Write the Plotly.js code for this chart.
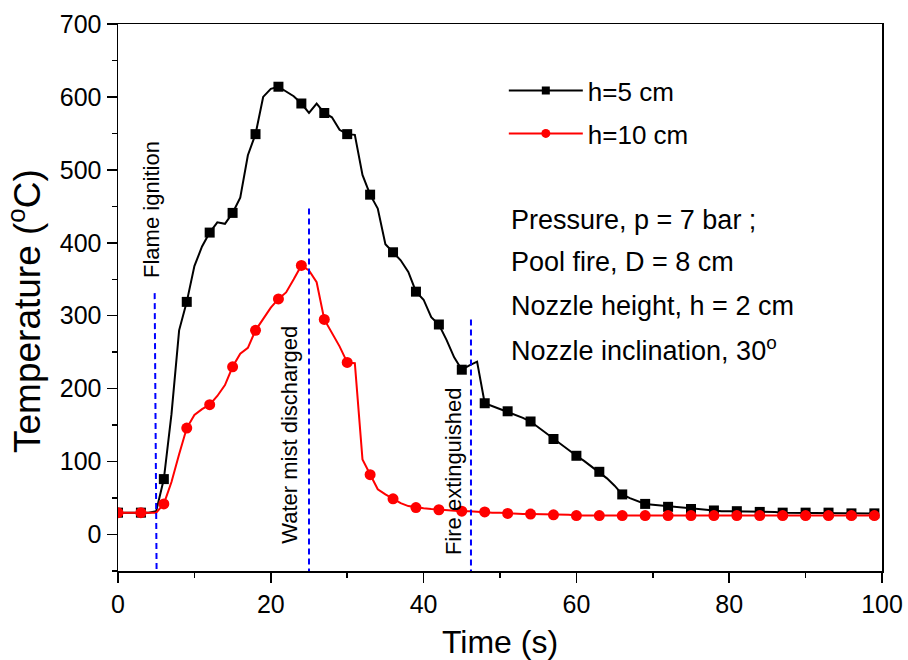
<!DOCTYPE html>
<html>
<head>
<meta charset="utf-8">
<script src="https://cdn.plot.ly/plotly-3.0.1.min.js"></script>
<style>html,body{margin:0;padding:0;background:#fff;}#chart{width:908px;height:660px;}</style>
</head>
<body>
<div id="chart"></div>
<script>
// Time (s), one reading per second
const time = [0,1,2,3,4,5,6,7,8,9,10,11,12,13,14,15,16,17,18,19,20,21,22,23,24,25,26,27,28,29,30,31,32,33,34,35,36,37,38,39,40,41,42,43,44,45,46,47,48,49,50,51,52,53,54,55,56,57,58,59,60,61,62,63,64,65,66,67,68,69,70,71,72,73,74,75,76,77,78,79,80,81,82,83,84,85,86,87,88,89,90,91,92,93,94,95,96,97,98,99];
// h = 5 cm
const tempH5 = [30,30,30,30,30,32,76,165,280,319,368,395,414,428,426,441,462,520,549,600,611,614,607,601,591,578,591,578,572,555,549,548,493,466,447,398,387,376,360,333,322,298,288,267,243,226,232,237,180,176,173,169,165,160,155,147,139,131,123,115,108,101,93,86,77,67,55,50,46,42,41,40,38,37,36,35,34,33,33,32,32,32,31,31,31,31,31,30,30,30,30,30,30,30,29,29,29,29,29,29];
// h = 10 cm
const tempH10 = [30,30,30,30,30,30,42,72,110,146,164,172,178,190,205,230,248,256,280,296,311,323,332,350,369,362,346,295,276,258,236,235,103,82,62,55,49,43,39,37,36,35,34,33,33,32,32,31,31,30,30,29,29,28,28,28,27,27,27,27,26,26,26,26,26,26,26,26,26,26,26,26,26,26,26,26,26,26,26,26,26,26,26,26,26,26,26,26,26,26,26,26,26,26,26,26,26,26,26,26];
const markerEvery = 3;
const seriesNames = ["h=5 cm", "h=10 cm"];
const xTitle = "Time (s)";
const yTitle = "Temperature (<sup>o</sup>C)";

// Event lines: [x at top, top temperature, x at bottom]
const eventLabels = ["Flame ignition", "Water mist discharged", "Fire extinguished"];
const eventX = [4.8, 25.0, 46.2];
const eventXBottom = [5.05, 25.0, 46.2];
const eventTop = [331, 447, 295];
const eventLabelX = [4.45, 22.4, 43.85];
const eventLabelY = [445, 137, 87];

const infoLines = ["Pressure, p = 7 bar ;", "Pool fire, D = 8 cm", "Nozzle height, h = 2 cm", "Nozzle inclination, 30<sup>o</sup>"];
const infoY = [431, 373, 314, 254];

const FONT = "Liberation Sans, Arial, sans-serif";
const mIdx = time.map((t, i) => i).filter(i => time[i] % markerEvery === 0);
const pick = (arr) => mIdx.map(i => arr[i]);

const traces = [
  {x: time, y: tempH5, mode: "lines", line: {color: "#000", width: 2, shape: "linear"}, showlegend: false, hoverinfo: "skip"},
  {x: pick(time), y: pick(tempH5), mode: "markers", marker: {symbol: "square", size: 10, color: "#000"}, showlegend: false},
  {x: time, y: tempH10, mode: "lines", line: {color: "#ff0000", width: 2}, showlegend: false, hoverinfo: "skip"},
  {x: pick(time), y: pick(tempH10), mode: "markers", marker: {symbol: "circle", size: 11, color: "#ff0000"}, showlegend: false},
  {x: [null], y: [null], name: seriesNames[0], mode: "lines+markers", line: {color: "#000", width: 2}, marker: {symbol: "square", size: 8, color: "#000"}, legendgroup: "a"},
  {x: [null], y: [null], name: seriesNames[1], mode: "lines+markers", line: {color: "#ff0000", width: 2}, marker: {symbol: "circle", size: 9, color: "#ff0000"}, legendgroup: "b"}
];

const shapes = eventX.map((x, i) => ({
  type: "line", xref: "x", yref: "y", x0: x, y0: eventTop[i], x1: eventXBottom[i], y1: -50,
  line: {color: "#0000ff", width: 2, dash: "6px,4px"}
}));

const annotations = [];
eventLabels.forEach((t, i) => annotations.push({
  text: t, x: eventLabelX[i], y: eventLabelY[i], xref: "x", yref: "y", showarrow: false,
  textangle: -90, xanchor: "center", yanchor: "middle", font: {family: FONT, size: 22, color: "#000"}
}));
infoLines.forEach((t, i) => annotations.push({
  text: t, x: 51.2, y: infoY[i], xref: "x", yref: "y", showarrow: false,
  xanchor: "left", yanchor: "middle", font: {family: FONT, size: 27, color: "#000"}
}));
// y-axis title placed as rotated text
annotations.push({
  text: yTitle, x: -0.122, y: 0.475, xref: "paper", yref: "paper", showarrow: false,
  textangle: -90, xanchor: "center", yanchor: "middle", font: {family: FONT, size: 37, color: "#000"}
});

const axisCommon = {
  showgrid: false, zeroline: false, showline: true, linecolor: "#000", linewidth: 1.5,
  mirror: true, ticks: "outside", ticklen: 10, tickwidth: 1.5, tickcolor: "#000",
  tickfont: {family: FONT, size: 25, color: "#000"},
  minor: {ticks: "outside", ticklen: 5, tickwidth: 1.5, tickcolor: "#000"}
};

const layout = {
  width: 908, height: 660,
  margin: {l: 118, r: 26, t: 24, b: 89},
  paper_bgcolor: "#fff", plot_bgcolor: "#fff",
  font: {family: FONT, color: "#000"},
  xaxis: Object.assign({}, axisCommon, {
    range: [0, 100], dtick: 20, tick0: 0,
    minor: Object.assign({}, axisCommon.minor, {dtick: 10}),
    title: {text: xTitle, font: {family: FONT, size: 32, color: "#000"}, standoff: 14}
  }),
  yaxis: Object.assign({}, axisCommon, {
    range: [-50, 700], dtick: 100, tick0: 0,
    minor: Object.assign({}, axisCommon.minor, {dtick: 50})
  }),
  showlegend: true,
  legend: {x: 0.505, y: 0.921, xanchor: "left", yanchor: "top", bgcolor: "rgba(0,0,0,0)", borderwidth: 0,
    font: {family: FONT, size: 26, color: "#000"}, itemwidth: 74, tracegroupgap: 6},
  shapes: shapes,
  annotations: annotations
};

Plotly.newPlot("chart", traces, layout, {displayModeBar: false, staticPlot: true});
</script>
</body>
</html>
